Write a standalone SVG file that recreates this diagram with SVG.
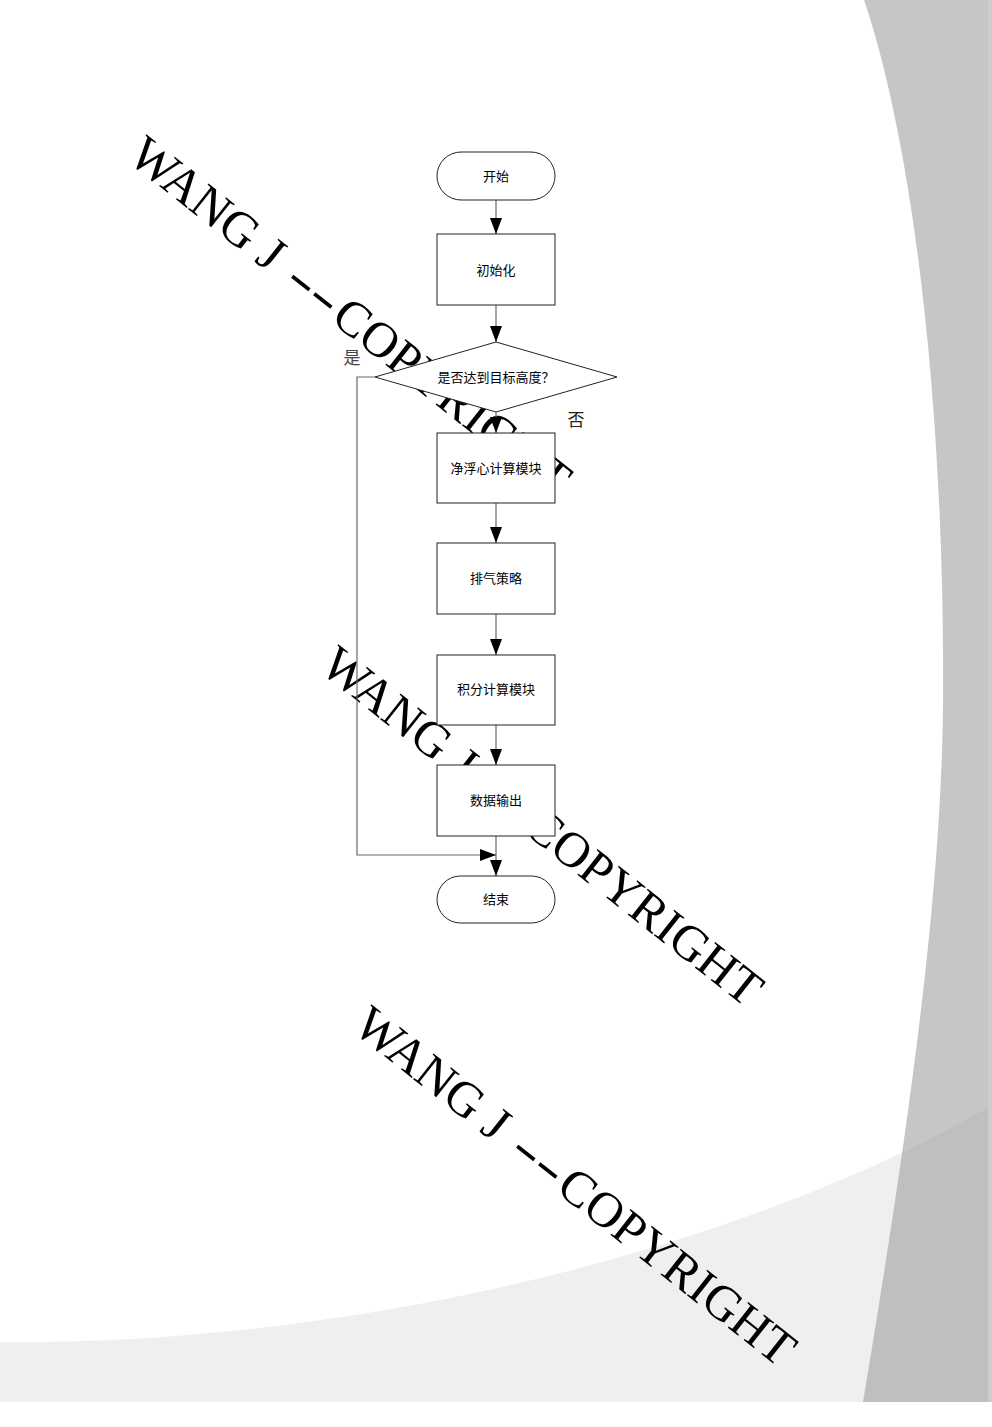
<svg xmlns="http://www.w3.org/2000/svg" width="992" height="1427" viewBox="0 0 992 1427">
<style>
.node{fill:#fff;stroke:#222;stroke-width:1}
.lbl{font-family:"Liberation Sans","Noto Sans CJK SC",sans-serif;font-size:13px;fill:#000;text-anchor:middle;dominant-baseline:central}
.edge{fill:none;stroke:#6a6a6a;stroke-width:1.2}
.wm{font-family:"Liberation Serif","Times New Roman",serif;font-size:50px;fill:#000}
.yn{font-family:"Noto Sans CJK SC",sans-serif;text-anchor:middle;dominant-baseline:central}
</style>
<defs>
<marker id="arr" viewBox="0 0 16 12" refX="16" refY="6" markerWidth="16" markerHeight="12" markerUnits="userSpaceOnUse" orient="auto">
<path d="M0,0 L16,6 L0,12 Z" fill="#000"/>
</marker>
<clipPath id="panelClip"><path d="M864,0 C915,150 945,420 943,700 C942,900 905,1150 863,1402 L992,1402 L992,0 Z"/></clipPath>
</defs>
<g id="background">
<rect x="0" y="0" width="992" height="1427" fill="#fff"/>
<path d="M0,1342 C400,1345 780,1230 992,1105 L992,1402 L0,1402 Z" fill="#efefef"/>
<path d="M864,0 C915,150 945,420 943,700 C942,900 905,1150 863,1402 L992,1402 L992,0 Z" fill="#c6c6c6"/>
<path d="M0,1342 C400,1345 780,1230 992,1105 L992,1402 L0,1402 Z" fill="#000" fill-opacity="0.03" clip-path="url(#panelClip)"/>
<rect x="988" y="0" width="4" height="1402" fill="#cdcdcd"/>
</g>
<g id="watermarks">
<text class="wm" transform="translate(126,160) rotate(38.3)">WANG J <tspan dx="5" textLength="56" lengthAdjust="spacingAndGlyphs">--</tspan><tspan dx="4">COPYRIGHT</tspan></text>
<text class="wm" transform="translate(318,670) rotate(38.3)">WANG J <tspan dx="5" textLength="56" lengthAdjust="spacingAndGlyphs">--</tspan><tspan dx="4">COPYRIGHT</tspan></text>
<text class="wm" transform="translate(351,1030) rotate(38.3)">WANG J <tspan dx="5" textLength="56" lengthAdjust="spacingAndGlyphs">--</tspan><tspan dx="4">COPYRIGHT</tspan></text>
</g>
<g id="connectors">
<line class="edge" x1="496" y1="200" x2="496" y2="234" marker-end="url(#arr)"/>
<line class="edge" x1="496" y1="305" x2="496" y2="342" marker-end="url(#arr)"/>
<line class="edge" x1="496" y1="412" x2="496" y2="433" marker-end="url(#arr)"/>
<line class="edge" x1="496" y1="503" x2="496" y2="543" marker-end="url(#arr)"/>
<line class="edge" x1="496" y1="614" x2="496" y2="655" marker-end="url(#arr)"/>
<line class="edge" x1="496" y1="725" x2="496" y2="765" marker-end="url(#arr)"/>
<line class="edge" x1="496" y1="836" x2="496" y2="876" marker-end="url(#arr)"/>
<polyline class="edge" points="375,377 357,377 357,855 496,855" marker-end="url(#arr)"/>
<text class="yn" x="352" y="356" font-size="17" fill="#444">是</text>
<text class="yn" x="576" y="418" font-size="17" fill="#222">否</text>
</g>
<g id="start">
<rect class="node" x="437" y="152" width="118" height="48" rx="24" ry="24"/>
<text class="lbl" x="496" y="176">开始</text>
</g>
<g id="init">
<rect class="node" x="437" y="234" width="118" height="71"/>
<text class="lbl" x="496" y="270">初始化</text>
</g>
<g id="decision">
<polygon class="node" points="496,342 617,377 496,412 375,377"/>
<text class="lbl" x="496" y="377">是否达到目标高度？</text>
</g>
<g id="buoyancy">
<rect class="node" x="437" y="433" width="118" height="70"/>
<text class="lbl" x="496" y="468">净浮心计算模块</text>
</g>
<g id="exhaust">
<rect class="node" x="437" y="543" width="118" height="71"/>
<text class="lbl" x="496" y="578">排气策略</text>
</g>
<g id="integral">
<rect class="node" x="437" y="655" width="118" height="70"/>
<text class="lbl" x="496" y="689">积分计算模块</text>
</g>
<g id="output">
<rect class="node" x="437" y="765" width="118" height="71"/>
<text class="lbl" x="496" y="800">数据输出</text>
</g>
<g id="end">
<rect class="node" x="437" y="876" width="118" height="47" rx="23.5" ry="23.5"/>
<text class="lbl" x="496" y="899">结束</text>
</g>
</svg>
